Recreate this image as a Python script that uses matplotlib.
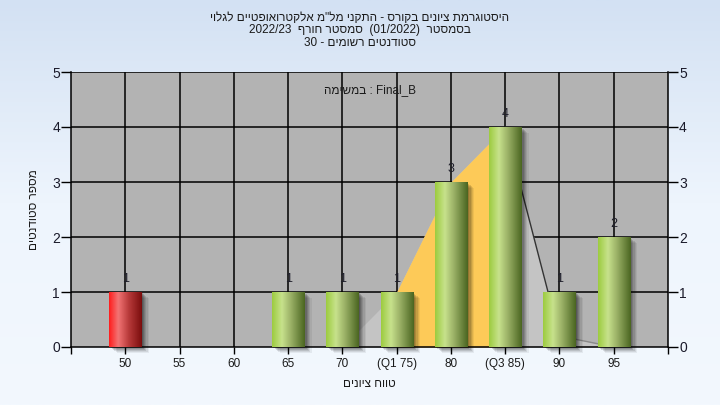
import re
import numpy as np
import matplotlib
matplotlib.use("Agg")
import matplotlib.pyplot as plt
import matplotlib.transforms as mtransforms
from matplotlib.colors import LinearSegmentedColormap

plt.rcParams['font.family'] = ['Liberation Sans', 'DejaVu Sans']

# ---- data ----
categories = ['50', '55', '60', '65', '70', '(Q1 75)', '80', '(Q3 85)', '90', '95']
counts = [1, 0, 0, 1, 1, 1, 3, 4, 1, 2]
fail_flags = [True, False, False, False, False, False, False, False, False, False]
# distribution outline drawn behind the bars (index -> value)
dist_idx = [4, 5, 6, 7, 8, 9]
dist_vals = [0, 1, 3, 4, 0.2, 0]
q1_idx, q3_idx = 5, 7

title_lines = ['היסטוגרמת ציונים בקורס - התקני מל"מ אלקטרואופטיים לגלוי',
               'בסמסטר  (01/2022)  סמסטר חורף  2022/23',
               'סטודנטים רשומים - 30']
task_label = 'Final_B : במשימה'
x_label = 'טווח ציונים'
y_label = 'מספר סטודנטים'

_MIRROR = str.maketrans('()[]', ')(][')
_LTR_RUN = re.compile(r'([A-Za-z0-9_]+(?:[/.][A-Za-z0-9_]+)*)')


def rtl(s):
    """Reorder a right-to-left string into left-to-right drawing order."""
    parts = _LTR_RUN.split(s)
    out = []
    for i, p in enumerate(parts):
        out.append(p if i % 2 else p[::-1].translate(_MIRROR))
    return ''.join(reversed(out))


W, H = 720, 405
fig = plt.figure(figsize=(7.2, 4.05), dpi=100)

# background gradient of the figure
bg_ax = fig.add_axes([0, 0, 1, 1], zorder=-10)
bg_cmap = LinearSegmentedColormap.from_list('bg', ['#d3e1f3', '#eef5fd', '#f3f8fe'])
bg_ax.imshow(np.linspace(0, 1, 256).reshape(-1, 1), aspect='auto', cmap=bg_cmap,
             extent=[0, 1, 0, 1])
bg_ax.set_axis_off()

ax = fig.add_axes([71 / W, 1 - 347 / H, (668 - 71) / W, (347 - 72) / H])
ax.set_facecolor('#b3b3b3')
n = len(categories)
x = np.arange(n)

# grid
for yv in range(1, 6):
    ax.axhline(yv, color='black', lw=1.1, zorder=0.5)
for xv in x:
    ax.axvline(xv, color='black', lw=1.1, zorder=0.5)

# distribution area
dx = np.array(dist_idx)
dy = np.array(dist_vals)
ax.fill_between(dx, 0, dy, color='#c4c4c4', lw=0, zorder=1)
mask = (dx >= q1_idx) & (dx <= q3_idx)
ax.fill_between(dx[mask], 0, dy[mask], color='#fdca58', lw=0, zorder=1.1)
ax.plot(dx[3:5], dy[3:5], color='#333333', lw=1.0, zorder=1.2)
ax.plot(dx[4:6], dy[4:6], color='#8a8a8a', lw=1.0, zorder=1.2)

# bars with soft shadow and cylindrical gradient
bar_w = 0.59
bars = ax.bar(x, counts, width=bar_w, color='none', edgecolor='none', zorder=3)
green = LinearSegmentedColormap.from_list(
    'g', [(0, '#9ccb3e'), (0.3, '#c7e28c'), (0.55, '#9fb56a'), (1, '#4a6520')])
red = LinearSegmentedColormap.from_list(
    'r', [(0, '#ff1c1c'), (0.28, '#f27474'), (0.6, '#b83a3a'), (1, '#7a0c0c')])
grad = np.linspace(0, 1, 256).reshape(1, -1)
for rect, h, bad in zip(bars, counts, fail_flags):
    if h <= 0:
        continue
    x0, w = rect.get_x(), rect.get_width()
    for k, a in zip(range(6, 0, -1), [0.06, 0.08, 0.1, 0.12, 0.14, 0.16]):
        tr = mtransforms.offset_copy(ax.transData, fig=fig, x=k * 0.9, y=-k * 0.7,
                                     units='points')
        sh = plt.Rectangle((x0, 0), w, h, transform=tr, color='black', alpha=a,
                           lw=0, zorder=2, clip_on=False)
        ax.add_patch(sh)
    im = ax.imshow(grad, aspect='auto', cmap=red if bad else green,
                   extent=[x0, x0 + w, 0, h], zorder=3, interpolation='bilinear')
    im.set_clip_path(rect)
    ax.annotate(str(h), (rect.get_x() + w / 2, h), xytext=(0, 5),
                textcoords='offset points', ha='center', va='bottom',
                fontsize=9, color='#1e1e2a', zorder=5)

ax.set_xlim(-1, n)
ax.set_ylim(0, 5)

# axes and ticks
ax.spines['top'].set_visible(False)
for side in ['left', 'right', 'bottom']:
    ax.spines[side].set_color('black')
    ax.spines[side].set_linewidth(1.1)
edge_ticks = [-1] + list(x) + [n]
ax.set_xticks(edge_ticks)
ax.set_xticklabels([''] + categories + [''], fontsize=8.5, color='#1a1a1a')
ax.tick_params(axis='x', length=5, width=1, pad=3)
ax.set_yticks(range(0, 6))
ax.tick_params(axis='y', length=7, width=1, labelsize=10, labelcolor='#1a1a2a',
               left=True, right=True, labelleft=True, labelright=True, pad=1)

ax.set_xlabel(rtl(x_label), fontsize=8.5, color='#1a1a1a', labelpad=6)
ax.set_ylabel(rtl(y_label), fontsize=8.5, color='#1a1a1a', labelpad=9)

ax.text(0.5, 0.955, rtl(task_label), transform=ax.transAxes, ha='center', va='top',
        fontsize=8.5, color='#1a1a1a', zorder=6)

for i, line in enumerate(title_lines):
    fig.text(0.5, 1 - (18 + 12.5 * i) / H, rtl(line), ha='center', va='center',
             fontsize=8.5, color='#1a1a1a')

fig.savefig('out.png', dpi=100)
